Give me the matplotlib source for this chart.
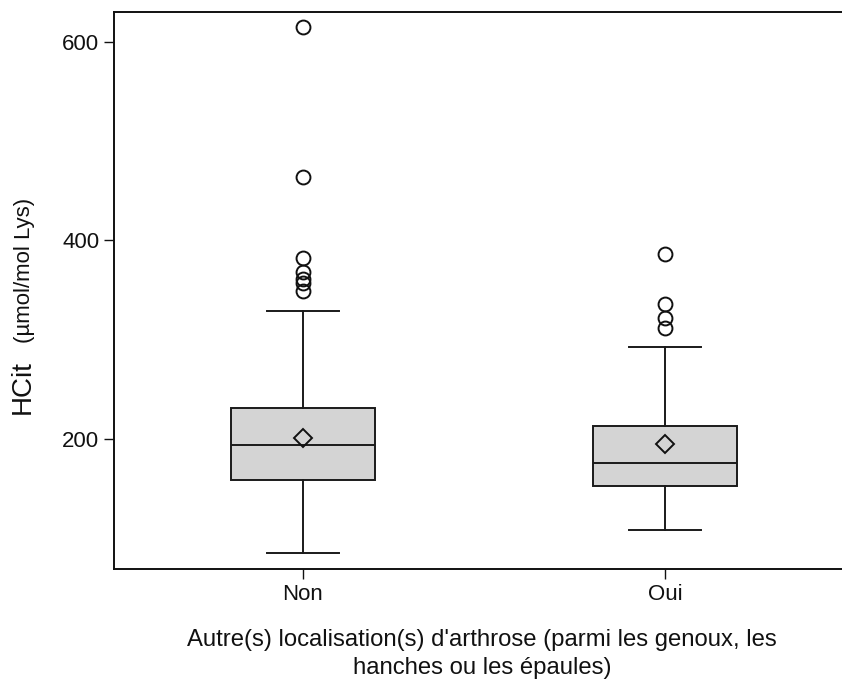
import matplotlib
matplotlib.use('Agg')
import matplotlib.pyplot as plt

plt.rcParams['font.family'] = ['Liberation Sans', 'DejaVu Sans']

categories = ['Non', 'Oui']
q1 = [159, 153]
med = [194, 176]
q3 = [231, 213]
whislo = [85, 108]
whishi = [329, 293]
means = [201, 195]
outliers = [[615, 464, 382, 368, 361, 357, 349],
            [386, 336, 322, 312]]

stats = []
for i, name in enumerate(categories):
    stats.append(dict(label=name, q1=q1[i], med=med[i], q3=q3[i],
                      whislo=whislo[i], whishi=whishi[i],
                      mean=means[i], fliers=outliers[i]))

W, H = 842, 682
fig = plt.figure(figsize=(W / 100, H / 100), dpi=100)
ax = fig.add_axes([114 / W, (H - 569) / H, (854 - 114) / W, (569 - 12) / H])

lw = 1.4
ax.bxp(stats, positions=[1, 2], widths=0.4, patch_artist=True,
       showmeans=True, showfliers=True,
       boxprops=dict(facecolor='#d4d4d4', edgecolor='#1a1a1a', linewidth=lw),
       medianprops=dict(color='#1a1a1a', linewidth=lw),
       whiskerprops=dict(color='#1a1a1a', linewidth=lw),
       capprops=dict(color='#1a1a1a', linewidth=lw),
       capwidths=0.2,
       meanprops=dict(marker='D', markerfacecolor='none', markeredgecolor='#111111',
                      markersize=9.5, markeredgewidth=1.4),
       flierprops=dict(marker='o', markerfacecolor='none', markeredgecolor='#111111',
                       markersize=10, markeredgewidth=1.4))

ax.set_xlim(0.478, 2.522)
ax.set_ylim(69, 630)
ax.set_yticks([200, 400, 600])
ax.set_xticks([1, 2])
ax.set_xticklabels(categories)
ax.tick_params(direction='out', length=7, width=1, labelsize=16, colors='#111111')
for s in ax.spines.values():
    s.set_linewidth(1.4)
    s.set_color('#111111')
ax.spines['right'].set_visible(False)

fig.text(482 / W, 1 - 654 / H,
         "Autre(s) localisation(s) d'arthrose (parmi les genoux, les\nhanches ou les épaules)",
         ha='center', va='center', fontsize=17.2, linespacing=1.3, color='#111111')
fig.text(23 / W, 1 - 387 / H, 'HCit', rotation=90, ha='center', va='center',
         fontsize=20, color='#111111')
fig.text(25 / W, 1 - 270 / H, '(µmol/mol Lys)', rotation=90, ha='center', va='center',
         fontsize=16, color='#111111')

fig.savefig('out.png', dpi=100)
